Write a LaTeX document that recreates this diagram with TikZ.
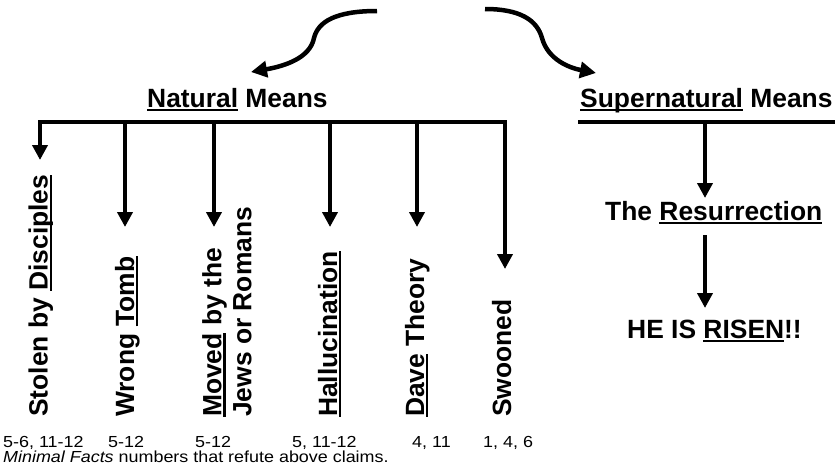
\documentclass[tikz,border=0pt]{standalone}
\usepackage{fontspec}
\setmainfont{Liberation Sans}
\newfontfamily\smallf[FakeStretch=1.12]{Liberation Sans}
\usetikzlibrary{arrows.meta}
\newsavebox\ulbox
\newcommand\ulx[1]{\sbox\ulbox{#1}\rlap{\rule[-4.4pt]{\wd\ulbox}{2.4pt}}\usebox\ulbox}
\begin{document}
\begin{tikzpicture}[x=1pt,y=-1pt,
  big/.style={font=\fontsize{26.4}{30}\selectfont\bfseries, inner sep=0pt},
  small/.style={font=\smallf\fontsize{16}{18}\selectfont, inner sep=0pt, anchor=base west},
  bar/.style={line width=4.5pt},
  tipx/.tip={Triangle[length=15pt,width=15pt]},
  arr/.style={line width=4pt, -tipx},
  curve/.style={line width=4.5pt, -{Triangle[length=16pt,width=16pt]}}]
\useasboundingbox (0,0) rectangle (835,471);

% top curves
\draw[curve] (377,11) .. controls (335,11) and (318,22) .. (314,38) .. controls (310,58) and (285,66) .. (251,72);
\draw[curve] (485,9) .. controls (520,9) and (537,20) .. (542,38) .. controls (548,60) and (570,68) .. (596,73);

% headings
\node[big, anchor=base west] (nat) at (147,107) {\ulx{Natural} Means};
\node[big, anchor=base west] (sup) at (580,107) {\ulx{Supernatural} Means};

% natural bar and branches
\coordinate (b1) at (40,122);
\coordinate (b6) at (505,122);
\coordinate (t1) at (40,160);
\coordinate (t6) at (505,269);
\draw[bar, tipx-tipx] (t1) -- (b1) -- (b6) -- (t6);
\coordinate (b2) at (125,122); \coordinate (t2) at (125,227);
\coordinate (b3) at (214,122); \coordinate (t3) at (214,227);
\coordinate (b4) at (330,122); \coordinate (t4) at (330,227);
\coordinate (b5) at (417,122); \coordinate (t5) at (417,227);
\draw[arr] (b2) -- (t2);
\draw[arr] (b3) -- (t3);
\draw[arr] (b4) -- (t4);
\draw[arr] (b5) -- (t5);

% rotated labels
\node[big, rotate=90, anchor=base west] (stolen) at (47.5,417) {Stolen by \ulx{Disciples}};
\node[big, rotate=90, anchor=base west] (wrong) at (134,417) {Wrong \ulx{Tomb}};
\node[big, rotate=90, anchor=north west, align=left] (moved) at (202,417) {\ulx{Moved} by the\\Jews or Romans};
\node[big, rotate=90, anchor=base west] (hall) at (337,417) {\ulx{Hallucination}};
\node[big, rotate=90, anchor=base west] (dave) at (424,417) {\ulx{Dave} Theory};
\node[big, rotate=90, anchor=base west] (swoon) at (511,417) {Swooned};

% supernatural side
\coordinate (s1) at (578,122);
\coordinate (s2) at (835,122);
\draw[bar] (s1) -- (s2);
\coordinate (sb) at (705,122);
\coordinate (st) at (705,198);
\draw[arr] (sb) -- (st);
\node[big, anchor=base west] (res) at (605,220) {The \ulx{Resurrection}};
\coordinate (rb) at (705,235);
\coordinate (rt) at (705,308);
\draw[arr] (rb) -- (rt);
\node[big, anchor=base west] (risen) at (627,338) {HE IS \ulx{RISEN}!!};

% numbers
\node[small] (n1) at (3,447.5) {5-6, 11-12};
\node[small] (n2) at (108,447.5) {5-12};
\node[small] (n3) at (195,447.5) {5-12};
\node[small] (n4) at (292,447.5) {5, 11-12};
\node[small] (n5) at (412,447.5) {4, 11};
\node[small] (n6) at (483,447.5) {1, 4, 6};
\node[small] (cap) at (3,462.5) {\textit{Minimal Facts} numbers that refute above claims.};
\end{tikzpicture}
\end{document}
